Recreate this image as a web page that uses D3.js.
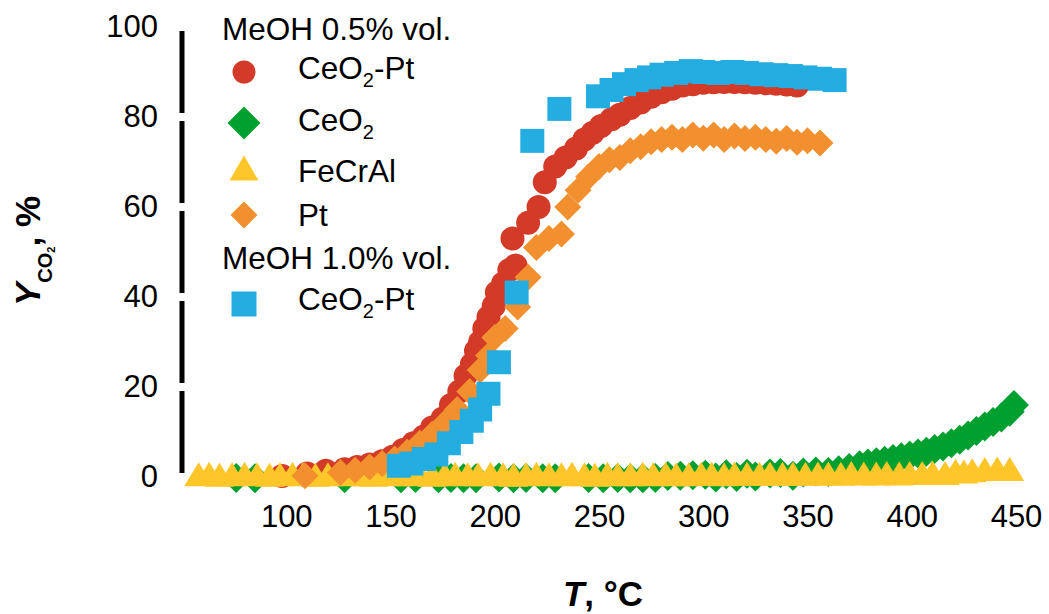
<!DOCTYPE html>
<html>
<head>
<meta charset="utf-8">
<script src="https://cdn.jsdelivr.net/npm/d3@7"></script>
<style>
  html, body { margin: 0; padding: 0; background: #fff; }
  svg { display: block; font-family: "Liberation Sans", Arial, sans-serif; }
</style>
</head>
<body>
<svg id="chart" width="1049" height="614"></svg>
<script>
// ---------- data ----------
const xTicks = [100, 150, 200, 250, 300, 350, 400, 450];
const yTicks = [0, 20, 40, 60, 80, 100];

// MeOH 0.5% vol. – CeO2-Pt (red circles)
const ceo2PtT = [98, 110, 119, 128, 134, 140, 146, 151, 156, 161,
                 166, 170, 175, 179, 183, 186, 189, 191, 193, 195,
                 197, 199.5, 201, 204, 207, 208.5, 210, 216, 221, 224,
                 229, 234, 239, 243, 247, 251, 256, 260, 265, 270,
                 275, 280, 285, 290, 295, 300, 305, 310, 315, 320,
                 325, 330, 335, 340, 345];
const ceo2PtY = [0.2, 0.8, 1.4, 1.7, 2.2, 2.8, 3.5, 4.5, 6, 7.5,
                 9, 11, 13, 16, 19, 22.5, 25, 28, 30, 33,
                 35.5, 38, 41, 43, 46, 53, 47, 56.5, 60, 65.5,
                 69, 71, 73, 75, 76.5, 78, 79.5, 80.5, 82, 83.2,
                 84.5, 85.5, 86.3, 87, 87.3, 87.6, 87.7, 87.8, 87.8, 87.7,
                 87.6, 87.5, 87.4, 87.2, 87];

// MeOH 0.5% vol. – CeO2 (green diamonds)
const ceo2T = [76, 85, 128, 155, 162, 173, 179, 185, 191, 202,
               209, 215, 223, 229, 245, 252, 259, 265, 271, 277,
               283, 289, 295, 301, 306, 311, 316, 321, 325, 332,
               337, 343, 348, 354, 360, 365, 370, 375, 379, 383,
               387, 391, 395, 399, 403, 407, 411, 415, 419, 423,
               427, 431, 435, 439, 443, 447, 449];
const ceo2Y = [-0.2, -0.3, -0.3, -0.3, -0.2, -0.3, -0.2, -0.3, -0.3, -0.1,
               -0.3, -0.2, -0.3, -0.3, -0.2, -0.3, -0.2, -0.3, -0.3, -0.2,
               0.2, 0.3, 0.4, 0.5, -0.1, 0.6, 0.0, 0.7, 0.1, 0.8,
               0.9, 0.3, 1.0, 1.2, 1.1, 1.5, 2.0, 2.6, 3.0, 3.3,
               3.6, 4.0, 4.4, 4.8, 5.2, 5.6, 6.2, 6.8, 7.5, 8.3,
               9.2, 10.2, 11.2, 12.2, 13.2, 14.5, 16];

// MeOH 0.5% vol. – FeCrAl (yellow triangles)
const fecralT = [58, 63, 68, 74, 80, 86, 92, 97, 103, 108,
                 114, 120, 125, 131, 137, 142, 148, 153, 159, 164,
                 170, 176, 181, 187, 192, 198, 204, 209, 215, 220,
                 226, 232, 237, 243, 248, 254, 259, 265, 271, 276,
                 282, 287, 293, 299, 304, 310, 315, 321, 327, 332,
                 338, 343, 349, 355, 360, 366, 371, 377, 383, 388,
                 394, 399, 405, 410, 416, 421, 425, 429, 435, 441,
                 447];
const fecralY = [0.6, 0.7, 0.5, 0.6, 0.7, 0.6, 0.5, 0.6, 0.7, 0.6,
                 0.5, 0.6, 0.7, 0.6, 0.6, 0.5, 0.7, 0.6, 0.6, 0.7,
                 0.5, 0.6, 0.7, 0.6, 0.6, 0.7, 0.6, 0.5, 0.6, 0.7,
                 0.6, 0.6, 0.7, 0.6, 0.5, 0.7, 0.6, 0.6, 0.7, 0.6,
                 0.7, 0.6, 0.6, 0.7, 0.7, 0.6, 0.8, 0.7, 0.7, 0.8,
                 0.7, 0.8, 0.7, 0.8, 0.8, 0.7, 0.9, 0.8, 0.8, 0.9,
                 0.8, 0.9, 0.9, 1.0, 0.9, 1.4, 1.2, 1.5, 1.8, 1.9,
                 1.8];

// MeOH 0.5% vol. – Pt (orange diamonds)
const ptT = [109, 126, 133, 140, 146, 152, 158, 164, 170, 176,
             182, 188, 193, 197, 200, 205, 211, 216, 220, 226,
             232, 235, 240, 245, 250, 255, 260, 265, 270, 275,
             280, 285, 290, 295, 300, 305, 310, 315, 320, 325,
             330, 335, 340, 345, 350, 356];
const ptY = [0.3, 1, 1.5, 2.2, 3, 4, 5.5, 7.5, 9.5, 12,
             15, 19, 23.8, 27, 31, 33, 37.8, 44.4, 51, 53,
             54, 60, 63.7, 66.7, 69, 70.5, 71, 72.5, 73.4, 74.5,
             75, 75.5, 75, 76, 75.3, 76, 75, 75.8, 75.2, 75.5,
             75, 74.6, 75.2, 74.4, 74.7, 74.2];

// MeOH 1.0% vol. – CeO2-Pt (blue squares)
const meoh1T = [154, 160, 166, 172, 178, 184, 189, 193, 197, 202,
                210.5, 218, 231, 249.5, 256, 262, 268, 274, 280, 287,
                294, 300, 307, 314, 321, 328, 335, 342, 349, 356,
                363];
const meoh1Y = [2.5, 3, 4, 5, 7.5, 10, 12.5, 15, 18.5, 25.5,
                41, 74.7, 81.8, 84.6, 86, 87.3, 88.2, 88.8, 89.4, 89.8,
                90.2, 90, 89.8, 90, 89.8, 89.5, 89.3, 89.1, 88.8, 88.5,
                88.2];

// ---------- styles ----------
const RED = "#D33A27", GREEN = "#00A030", YELLOW = "#FFC629", ORANGE = "#F28F2E", BLUE = "#23ADE1";

const shapes = {
  circle: r => d3.symbol(d3.symbolCircle, Math.PI * r * r)(),
  square: s => `M${-s/2},${-s/2}H${s/2}V${s/2}H${-s/2}Z`,
  diamond: r => `M0,${-r}L${r},0L0,${r}L${-r},0Z`,
  triangle: (w, h) => `M0,${-h/2}L${w/2},${h/2}L${-w/2},${h/2}Z`
};

const series = [
  { name: "CeO2",      T: ceo2T,   Y: ceo2Y,   color: GREEN,  path: shapes.diamond(15) },
  { name: "CeO2-Pt",   T: ceo2PtT, Y: ceo2PtY, color: RED,    path: shapes.circle(12) },
  { name: "FeCrAl",    T: fecralT, Y: fecralY, color: YELLOW, path: shapes.triangle(29, 24) },
  { name: "Pt",        T: ptT,     Y: ptY,     color: ORANGE, path: shapes.diamond(13.5) },
  { name: "CeO2-Pt 1", T: meoh1T,  Y: meoh1Y,  color: BLUE,   path: shapes.square(24) }
];

// ---------- scales ----------
const x = d3.scaleLinear().domain([50, 450]).range([182, 1016]);
const y = d3.scaleLinear().domain([0, 100]).range([477, 27]);

const svg = d3.select("#chart");
const FS = 31;

// y axis labels
const yAxis = d3.axisLeft(y).tickValues(yTicks).tickSizeInner(0).tickSizeOuter(0).tickPadding(24);
const gy = svg.append("g").attr("transform", `translate(${x(50)},0)`).call(yAxis);
gy.select(".domain").remove();
gy.selectAll("text").attr("font-size", FS).attr("font-family", "Liberation Sans, Arial").attr("fill", "#000");

// broken y axis line (white gaps at ticks)
const segs = d3.pairs(yTicks);
svg.append("g").selectAll("line").data(segs).join("line")
  .attr("x1", x(50)).attr("x2", x(50))
  .attr("y1", d => y(d[0]) - 4).attr("y2", d => y(d[1]) + 4)
  .attr("stroke", "#000").attr("stroke-width", 5);

// x axis labels
const xAxis = d3.axisBottom(x).tickValues(xTicks).tickSizeInner(0).tickSizeOuter(0).tickPadding(28);
const gx = svg.append("g").attr("transform", `translate(0,${y(0)})`).call(xAxis);
gx.select(".domain").remove();
gx.selectAll("text").attr("font-size", FS).attr("font-family", "Liberation Sans, Arial").attr("fill", "#000");

// markers
const plot = svg.append("g");
series.forEach(s => {
  const pts = s.T.map((t, i) => [t, s.Y[i]]);
  plot.append("g").selectAll("path").data(pts).join("path")
    .attr("d", s.path)
    .attr("transform", d => `translate(${x(d[0])},${y(d[1])})`)
    .attr("fill", s.color);
});

// axis titles
const xt = svg.append("text").attr("x", 603).attr("y", 606).attr("text-anchor", "middle")
  .attr("font-size", 35).attr("font-weight", "bold");
xt.append("tspan").attr("font-style", "italic").text("T");
xt.append("tspan").text(", °C");

const yt = svg.append("text").attr("transform", "translate(40,306) rotate(-90)")
  .attr("font-size", 35).attr("font-weight", "bold");
yt.append("tspan").attr("font-style", "italic").text("Y");
yt.append("tspan").attr("font-size", 20).attr("dy", 12).text("CO");
yt.append("tspan").attr("font-size", 11).attr("dy", 3).text("2");
yt.append("tspan").attr("dy", -15).text(", %");

// legend
const LFS = 31.5;
const leg = svg.append("g").attr("font-size", LFS);
leg.append("text").attr("x", 222).attr("y", 40).text("MeOH 0.5% vol.");
leg.append("text").attr("x", 222).attr("y", 269).text("MeOH 1.0% vol.");
const legendRows = [
  { label: ["CeO", "2", "-Pt"], color: RED,    path: shapes.circle(11.5),      my: 72,  ty: 79 },
  { label: ["CeO", "2", ""],    color: GREEN,  path: shapes.diamond(16.5),     my: 123, ty: 131 },
  { label: ["FeCrAl"],          color: YELLOW, path: shapes.triangle(29, 25),  my: 168, ty: 182 },
  { label: ["Pt"],              color: ORANGE, path: shapes.diamond(13.5),     my: 215, ty: 226 },
  { label: ["CeO", "2", "-Pt"], color: BLUE,   path: shapes.square(25),        my: 304, ty: 310 }
];
legendRows.forEach(r => {
  leg.append("path").attr("d", r.path).attr("fill", r.color)
    .attr("transform", `translate(244,${r.my})`);
  const t = leg.append("text").attr("x", 298).attr("y", r.ty);
  t.append("tspan").text(r.label[0]);
  if (r.label.length > 1) {
    t.append("tspan").attr("font-size", 20).attr("dy", 8).text(r.label[1]);
    if (r.label[2]) t.append("tspan").attr("dy", -8).text(r.label[2]);
  }
});
</script>
</body>
</html>
